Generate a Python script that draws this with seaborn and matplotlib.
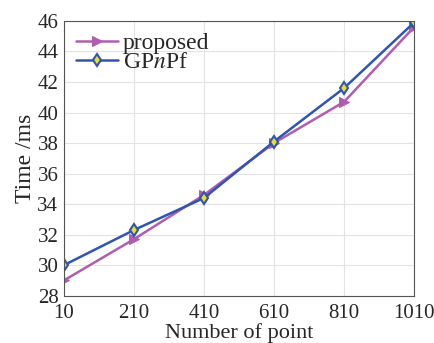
import pandas as pd
import matplotlib.pyplot as plt
import seaborn as sns

points = [10, 210, 410, 610, 810, 1010]
proposed = [29.0, 31.7, 34.6, 38.0, 40.7, 45.6]
gpnpf = [30.0, 32.3, 34.4, 38.1, 41.6, 45.9]

sns.set_style('whitegrid')
plt.rcParams['font.family'] = ['Liberation Serif', 'DejaVu Serif']
plt.rcParams['mathtext.fontset'] = 'stix'

fig, ax = plt.subplots(figsize=(4.35, 3.43), dpi=100)
sns.lineplot(x=points, y=proposed, ax=ax, color='#b05db0', linewidth=1.8,
             marker='>', markersize=7, markeredgecolor='#b05db0', label='proposed')
sns.lineplot(x=points, y=gpnpf, ax=ax, color='#2f55b0', linewidth=1.8,
             marker='d', markersize=6, markerfacecolor='#e8e030',
             markeredgecolor='#2f55b0', markeredgewidth=1.5, label=r'GP$n$Pf')

ax.set_xlim(10, 1010)
ax.set_ylim(28, 46)
ax.set_xticks(points)
ax.set_yticks(range(28, 47, 2))
ax.tick_params(labelsize=15, direction='in', length=3)
ax.tick_params(axis='x', pad=6)
ax.tick_params(axis='y', pad=4)
ax.set_xlabel('Number of point', fontsize=16, labelpad=0)
ax.set_ylabel('Time /ms', fontsize=17, labelpad=1)
ax.grid(True, color='#e3e3e3', linewidth=0.8)
for s in ax.spines.values():
    s.set_color('#555555')
    s.set_linewidth(0.8)
ax.legend(loc='upper left', fontsize=17, frameon=False, handlelength=1.8,
          handletextpad=0.2, labelspacing=-0.1, borderaxespad=0.3,
          borderpad=0.2)

plt.subplots_adjust(left=0.147, right=0.952, top=0.939, bottom=0.138)
plt.savefig('out.png')
